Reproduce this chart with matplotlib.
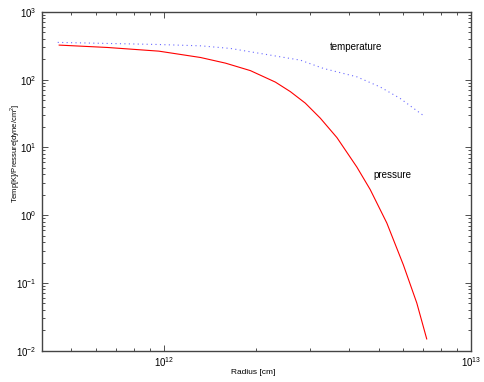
import numpy as np
import matplotlib.pyplot as plt

plt.rcParams['font.family'] = ['Liberation Sans', 'DejaVu Sans']
plt.rcParams['mathtext.fontset'] = 'custom'
plt.rcParams['mathtext.rm'] = 'Liberation Sans'

# values (log-log)
radius_p = [4.56e11, 6.55e11, 9.63e11, 1.316e12, 1.587e12, 1.913e12, 2.307e12, 2.581e12,
            2.887e12, 3.231e12, 3.660e12, 4.251e12, 4.697e12, 5.322e12, 6.026e12,
            6.663e12, 7.178e12]
pressure = [323, 298, 263, 212, 175, 135.7, 91.9, 66.5,
            45.0, 27.0, 13.95, 5.12, 2.39, 0.765, 0.184,
            0.0505, 0.0149]

radius_t = [4.51e11, 9.52e11, 1.32e12, 1.65e12, 2.58e12, 2.78e12, 3.31e12,
            4.25e12, 5.06e12, 5.88e12, 7.09e12]
temperature = [354, 330, 315, 288, 205, 194, 146, 110, 78, 52.8, 28.3]

fig = plt.figure(figsize=(4.85, 3.82), dpi=100)
ax = fig.add_axes([0.086, 0.082, 0.885, 0.887])

ax.plot(radius_t, temperature, color='#6a6aff', lw=0.8, linestyle=(0, (1, 3)))
ax.plot(radius_p, pressure, color='#ff0000', lw=0.8)

ax.set_xscale('log')
ax.set_yscale('log')
ax.set_xlim(4e11, 1e13)
ax.set_ylim(1e-2, 1e3)

ax.text(4.23e12, 301, 'temperature', fontsize=7, ha='center', va='center')
ax.text(5.57e12, 3.9, 'pressure', fontsize=7, ha='center', va='center')

# axis titles placed like the reference (ylabel sits above the axes centre)
fig.text(0.522, 0.024, 'Radius [cm]', fontsize=6, ha='center', va='center')
fig.text(0.031, 0.599, 'Temp[K]/Pressure[dyne/cm$^2$]', fontsize=5.5,
         ha='center', va='center', rotation=90)

ax.tick_params(which='both', direction='in', top=True, right=True,
               labelsize=7, color='#333333', width=0.6)
ax.tick_params(which='major', length=4)
ax.tick_params(which='minor', length=2)
for s in ax.spines.values():
    s.set_color('#444444')
    s.set_linewidth(1.0)

fig.savefig('out.png', dpi=100)
